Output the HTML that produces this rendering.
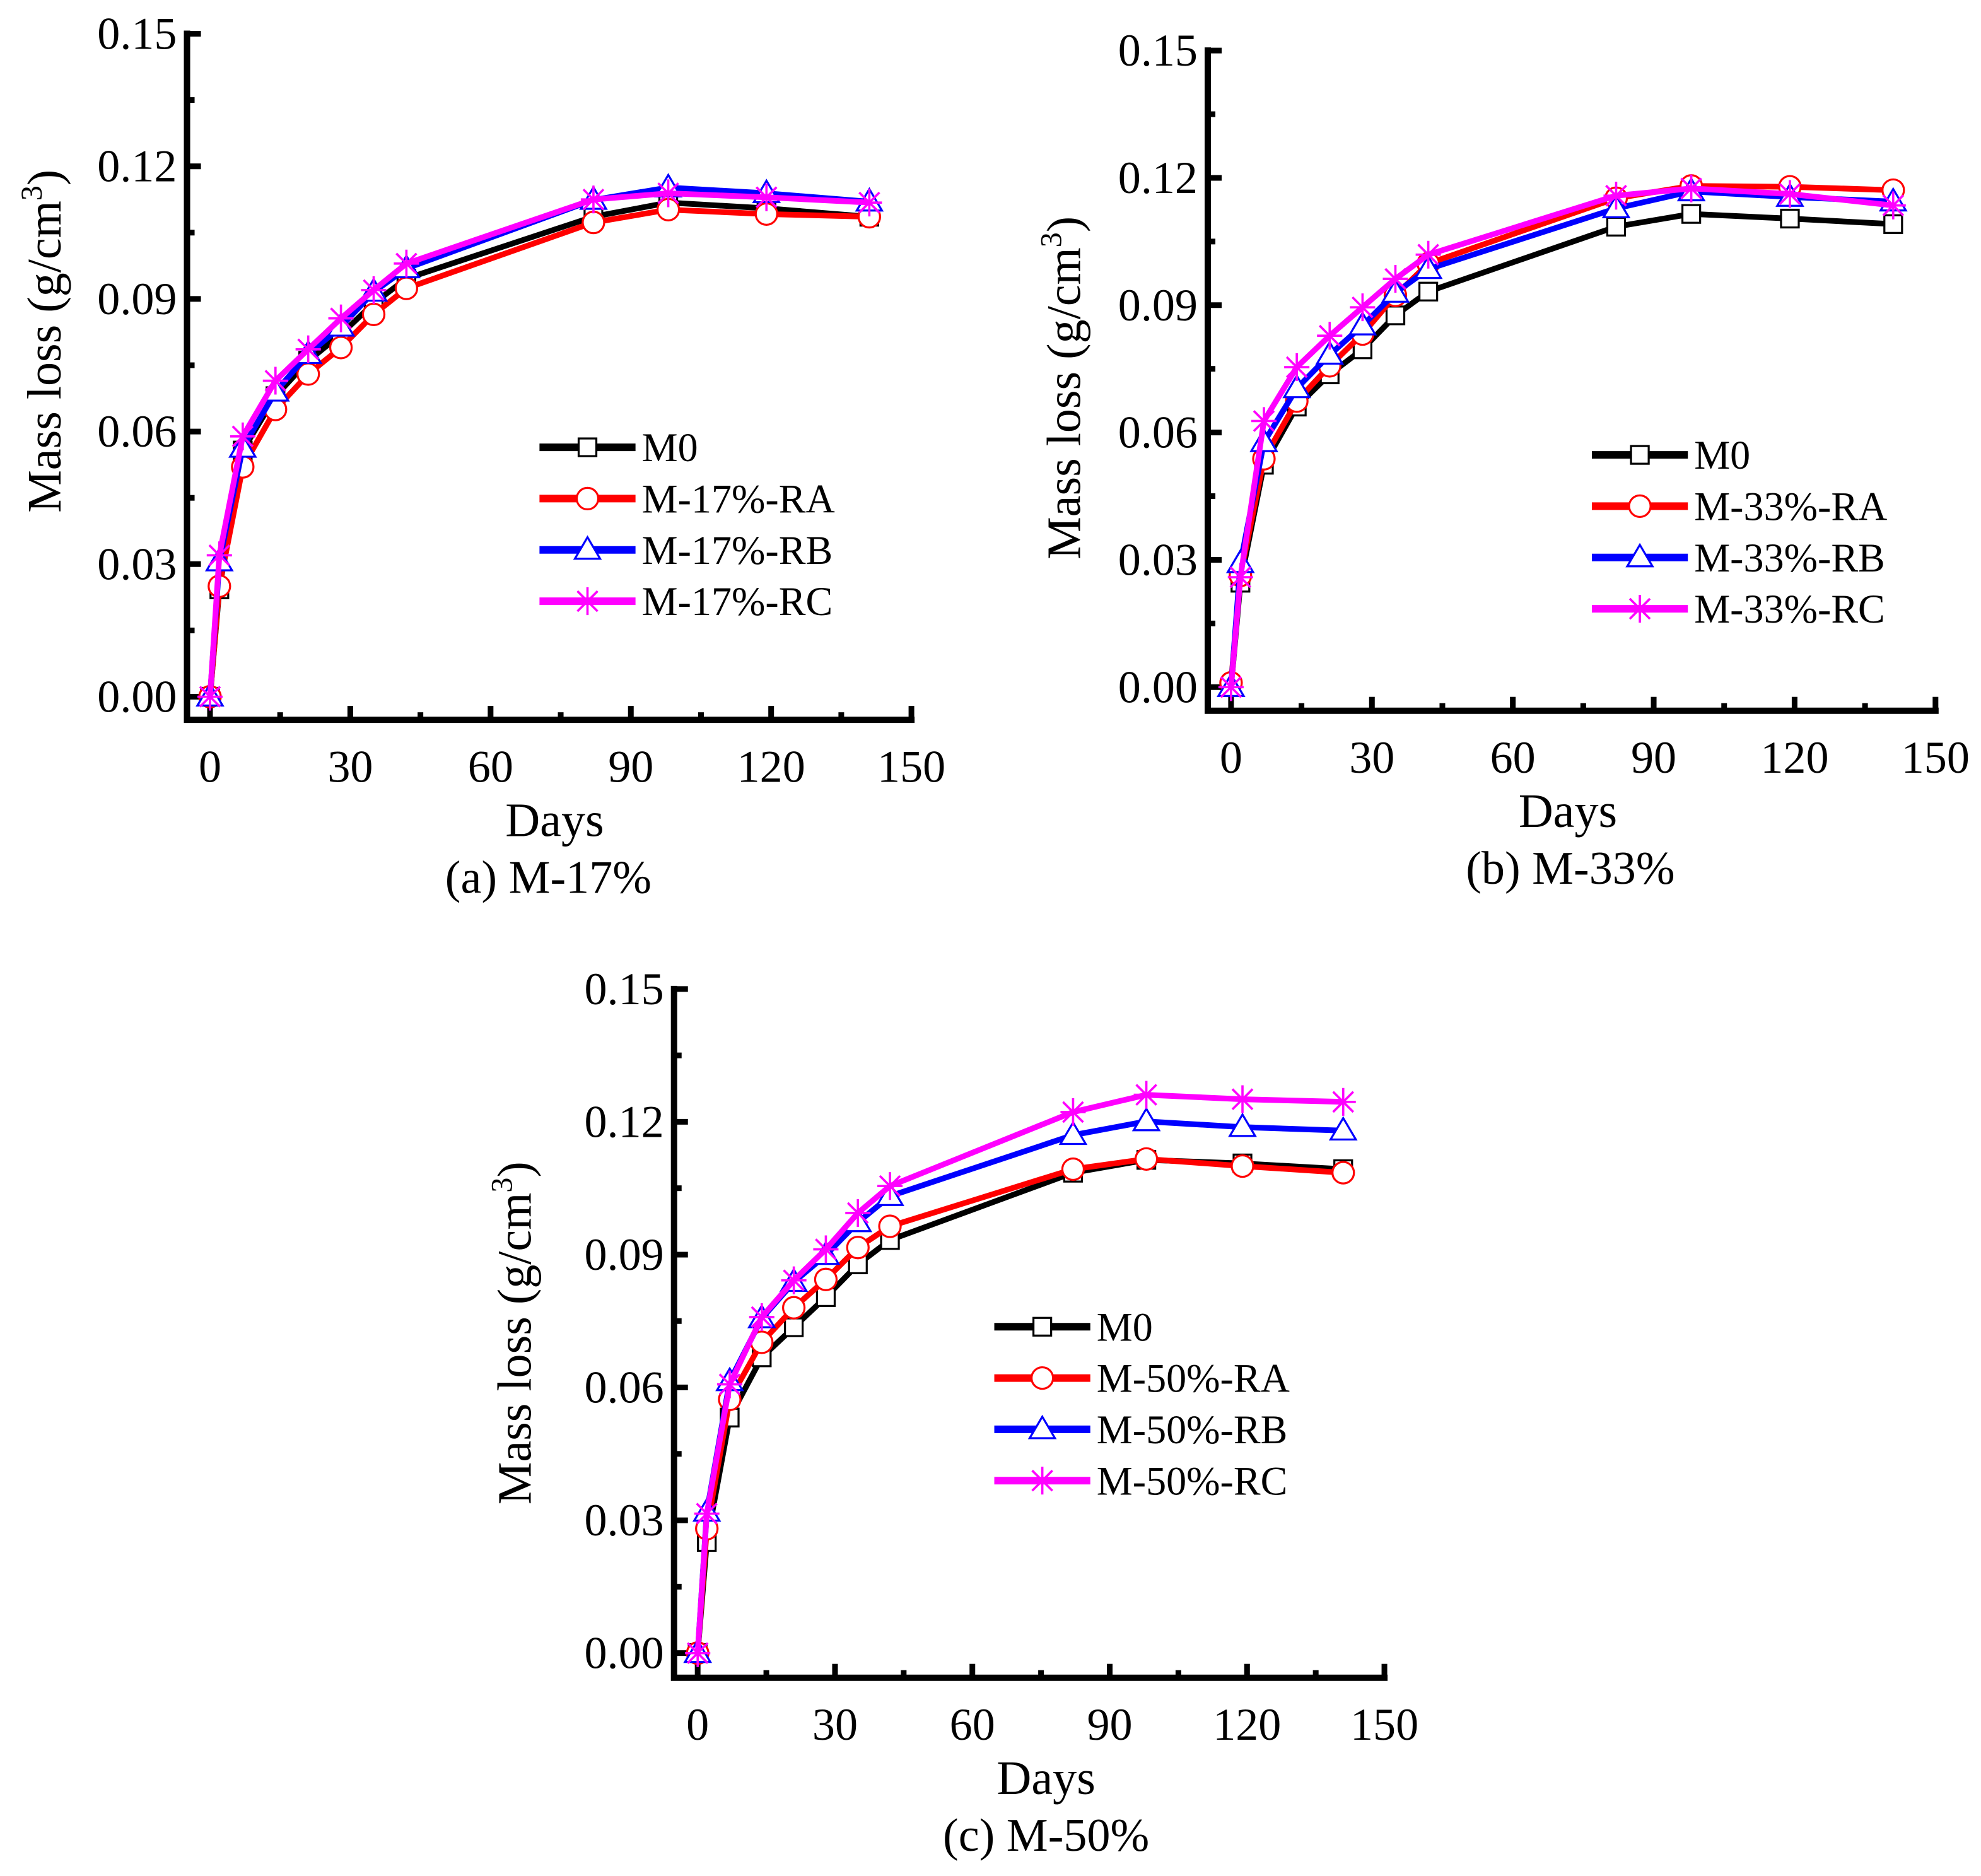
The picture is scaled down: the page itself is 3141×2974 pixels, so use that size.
<!DOCTYPE html>
<html><head><meta charset="utf-8"><style>
html,body{margin:0;padding:0;background:#fff;}
svg{display:block;}
svg text{font-family:"Liberation Serif","Times New Roman",serif;}
</style></head><body>
<svg id="fig" width="3141" height="2974" viewBox="0 0 1568 1484.7" xmlns="http://www.w3.org/2000/svg" font-family="Liberation Serif, serif"></svg>
<script>
const days = [0,2,7,14,21,28,35,42,82,98,119,141];
const xTicks = [0,30,60,90,120,150];
const yTicks = [0,0.03,0.06,0.09,0.12,0.15];
const yTickLabels = ["0.00","0.03","0.06","0.09","0.12","0.15"];
const seriesNames = ["M0","RA","RB","RC"];
const aM0 = [0,0.0243,0.0557,0.068,0.076,0.082,0.089,0.0946,0.1086,0.1118,0.1105,0.1086];
const aRA = [0,0.025,0.052,0.065,0.073,0.079,0.0865,0.0924,0.1073,0.1102,0.1092,0.1086];
const aRB = [0,0.0306,0.0563,0.069,0.0775,0.0837,0.0916,0.0969,0.1124,0.1152,0.1139,0.112];
const aRC = [0,0.032,0.0589,0.0715,0.0786,0.0856,0.092,0.098,0.1125,0.1139,0.113,0.1118];
const bM0 = [0,0.0246,0.0524,0.0661,0.0737,0.0796,0.0876,0.0932,0.1085,0.1115,0.1104,0.1091];
const bRA = [0.001,0.0263,0.0538,0.0674,0.0757,0.0832,0.0923,0.0998,0.1152,0.1181,0.1179,0.1171];
const bRB = [0,0.0292,0.0577,0.0704,0.0783,0.0852,0.0929,0.0985,0.1128,0.1168,0.1155,0.1144];
const bRC = [0,0.0259,0.0627,0.0754,0.0828,0.0895,0.0962,0.1019,0.1158,0.1175,0.1162,0.1135];
const cM0 = [0,0.0251,0.0532,0.0668,0.0736,0.0804,0.0878,0.0933,0.1085,0.1114,0.1106,0.1093];
const cRA = [0,0.0281,0.0573,0.0702,0.078,0.0844,0.0916,0.0964,0.1093,0.1116,0.11,0.1085];
const cRB = [0,0.0319,0.0614,0.0756,0.0838,0.0899,0.0973,0.1032,0.117,0.1201,0.1188,0.118];
const cRC = [0,0.0315,0.0607,0.0759,0.0842,0.0912,0.0994,0.1055,0.1222,0.1261,0.1251,0.1245];

const NS="http://www.w3.org/2000/svg";
const svg=document.getElementById('fig');
function mk(tag,attrs,parent){const e=document.createElementNS(NS,tag);for(const k in attrs)e.setAttribute(k,attrs[k]);(parent||svg).appendChild(e);return e;}
const colors={M0:"#000",RA:"#ff0000",RB:"#0000ff",RC:"#ff00ff"};

function marker(g,type,x,y){
  let m;
  if(type==="M0"){m=mk('rect',{x:x-7,y:y-7,width:14,height:14,fill:'#fff',stroke:'#000','stroke-width':1.6},g);}
  else if(type==="RA"){m=mk('circle',{cx:x,cy:y,r:8.5,fill:'#fff',stroke:'#ff0000','stroke-width':1.6},g);}
  else if(type==="RB"){m=mk('polygon',{points:`${x},${y-10} ${x-10},${y+7} ${x+10},${y+7}`,fill:'#fff',stroke:'#0000ff','stroke-width':1.6},g);}
  else {m=mk('path',{d:`M${x-10},${y}H${x+10}M${x},${y-11}V${y+11}M${x-8},${y-8}L${x+8},${y+8}M${x-8},${y+8}L${x+8},${y-8}`,stroke:'#ff00ff','stroke-width':1.8,fill:'none'},g);}
  
  
  return m;
}

function panel(cfg){
  const g=mk('g',{});
  
  
  const X=d=>cfg.x0+(cfg.x150-cfg.x0)*d/150;
  const Y=v=>cfg.y0+(cfg.y15-cfg.y0)*v/0.15;
  const ax=mk('path',{d:`M${cfg.ax},${Y(0.15)}V${cfg.ay}H${X(150)}`,stroke:'#000','stroke-width':5,fill:'none','stroke-linecap':'square'},g);
  
  
  for(let i=0;i<yTicks.length;i++){
    const y=Y(yTicks[i]);
    mk('line',{x1:cfg.ax,x2:cfg.ax+11,y1:y,y2:y,stroke:'#000','stroke-width':4.5},g);
    const t=mk('text',{x:cfg.ax-8,y:y+12,'text-anchor':'end','font-size':36},g);
    t.textContent=yTickLabels[i];
    
    
    if(i<yTicks.length-1){const ym=Y((yTicks[i]+yTicks[i+1])/2);mk('line',{x1:cfg.ax,x2:cfg.ax+6,y1:ym,y2:ym,stroke:'#000','stroke-width':4.5},g);}
  }
  for(let i=0;i<xTicks.length;i++){
    const x=X(xTicks[i]);
    mk('line',{x1:x,x2:x,y1:cfg.ay,y2:cfg.ay-11,stroke:'#000','stroke-width':4.5},g);
    const t=mk('text',{x:x,y:cfg.ay+49,'text-anchor':'middle','font-size':36},g);
    t.textContent=xTicks[i];
    
    
    if(i<xTicks.length-1){const xm=X((xTicks[i]+xTicks[i+1])/2);mk('line',{x1:xm,x2:xm,y1:cfg.ay,y2:cfg.ay-6,stroke:'#000','stroke-width':4.5},g);}
  }
  const xt=mk('text',{x:cfg.daysX,y:cfg.ay+92,'text-anchor':'middle','font-size':38},g);
  xt.textContent="Days";
  
  
  const cap=mk('text',{x:cfg.capX,y:cfg.ay+137,'text-anchor':'middle','font-size':37},g);
  cap.textContent=cfg.caption;
  
  
  const yt=mk('text',{transform:`translate(${cfg.ytX},${cfg.ytY}) rotate(-90)`,'text-anchor':'middle','font-size':38},g);
  yt.innerHTML='Mass loss (g/cm<tspan dy="-15" font-size="24">3</tspan><tspan dy="15">)</tspan>';
  
  
  cfg.series.forEach((vals,si)=>{
    const nm=seriesNames[si];
    const sg=mk('g',{},g);
    
    
    const pts=vals.map((v,i)=>X(days[i])+','+Y(v)).join(' ');
    const pl=mk('polyline',{points:pts,fill:'none',stroke:colors[nm],'stroke-width':4.5,'stroke-linejoin':'round'},sg);
    
    
    vals.forEach((v,i)=>marker(sg,nm,X(days[i]),Y(v)));
  });
  const lg=mk('g',{},g);
  
  
  cfg.legendLabels.forEach((lab,i)=>{
    const nm=seriesNames[i];const y=cfg.legY+i*40.6;
    const e=mk('g',{},lg);
    
    
    mk('line',{x1:cfg.legX,x2:cfg.legX+76,y1:y,y2:y,stroke:colors[nm],'stroke-width':6},e);
    marker(e,nm,cfg.legX+38,y);
    const t=mk('text',{x:cfg.legX+81,y:y+11,'font-size':32},e);
    t.textContent=lab;
  });
}

panel({id:'a',ax:148,ay:569.7,x0:166.2,x150:721.4,y0:551.4,y15:26.7,daysX:439,capX:434,ytX:48,ytY:270,caption:"(a) M-17%",
  series:[aM0,aRA,aRB,aRC],legendLabels:["M0","M-17%-RA","M-17%-RB","M-17%-RC"],legX:427,legY:354});
panel({id:'b',ax:956,ay:562.5,x0:974.4,x150:1532,y0:543.8,y15:40,daysX:1241,capX:1243,ytX:855,ytY:307,caption:"(b) M-33%",
  series:[bM0,bRA,bRB,bRC],legendLabels:["M0","M-33%-RA","M-33%-RB","M-33%-RC"],legX:1260,legY:360});
panel({id:'c',ax:533.5,ay:1327.8,x0:552.2,x150:1095.8,y0:1308.3,y15:782.7,daysX:828,capX:828,ytX:420,ytY:1055,caption:"(c) M-50%",
  series:[cM0,cRA,cRB,cRC],legendLabels:["M0","M-50%-RA","M-50%-RB","M-50%-RC"],legX:787,legY:1050});
</script>
</body></html>
